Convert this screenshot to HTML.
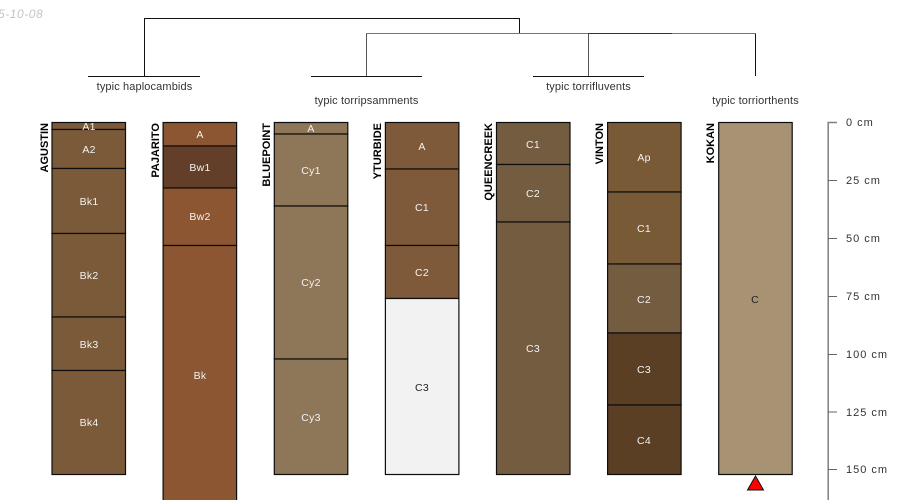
<!DOCTYPE html>
<html><head><meta charset="utf-8"><style>
html,body{margin:0;padding:0;background:#fff;width:900px;height:500px;overflow:hidden}
svg{display:block}
text{font-family:"Liberation Sans",sans-serif}
.w{fill:#f2f2f2;font-size:10.500px;letter-spacing:.25px;text-anchor:middle}
.k{fill:#222;font-size:10.500px;letter-spacing:.25px;text-anchor:middle}
.t{fill:#333;font-size:11px;letter-spacing:.12px;text-anchor:middle}
.n{fill:#000;font-size:11px;font-weight:bold;text-anchor:end}
.d{fill:#333;font-size:11px;letter-spacing:1px}
rect{stroke:#0d0d0d;stroke-width:1.200}
.c line,.c path{shape-rendering:crispEdges}
line,path.l{stroke:#111;stroke-width:1;fill:none}
</style></head><body>
<svg width="900" height="500" viewBox="0 0 900 500" xmlns="http://www.w3.org/2000/svg">
<text x="-2" y="18" style="font-size:12px;letter-spacing:.55px;font-style:italic;fill:#c4c4c4">5-10-08</text>

<!-- dendrogram -->
<g class="c">
<path class="l" d="M144.500 76V18.500H519.500V33"/>
<path d="M366.500 76V33.500" fill="none" stroke="#555" stroke-width="1"/>
<path d="M366 33.500H588" fill="none" stroke="#777" stroke-width="1"/>
<path d="M588.500 76V33.500" fill="none" stroke="#555" stroke-width="1"/>
<path d="M588 33.500H672" fill="none" stroke="#333" stroke-width="1"/>
<path d="M672 33.500H755.500" fill="none" stroke="#777" stroke-width="1"/>
<path class="l" d="M755.500 33.500V76"/>
<line x1="88" y1="76.500" x2="200" y2="76.500"/>
<line x1="311" y1="76.500" x2="422" y2="76.500"/>
<line x1="533" y1="76.500" x2="644" y2="76.500"/>
</g>
<text class="t" x="144.500" y="90">typic haplocambids</text>
<text class="t" x="366.500" y="104">typic torripsamments</text>
<text class="t" x="588.500" y="90">typic torrifluvents</text>
<text class="t" x="755.500" y="104">typic torriorthents</text>

<!-- AGUSTIN -->
<rect x="52" y="122.500" width="73.500" height="7" fill="#7b5a3a"/>
<rect x="52" y="129.500" width="73.500" height="39" fill="#7b5a3a"/>
<rect x="52" y="168.500" width="73.500" height="65" fill="#7b5a3a"/>
<rect x="52" y="233.500" width="73.500" height="83.500" fill="#7b5a3a"/>
<rect x="52" y="317" width="73.500" height="53.500" fill="#7b5a3a"/>
<rect x="52" y="370.500" width="73.500" height="104" fill="#7b5a3a"/>
<text class="w" x="89" y="130">A1</text>
<text class="w" x="89" y="153">A2</text>
<text class="w" x="89" y="205">Bk1</text>
<text class="w" x="89" y="279">Bk2</text>
<text class="w" x="89" y="348">Bk3</text>
<text class="w" x="89" y="426">Bk4</text>

<!-- PAJARITO -->
<rect x="163.100" y="122.500" width="73.500" height="23.500" fill="#8b5631"/>
<rect x="163.100" y="146" width="73.500" height="42" fill="#633f29"/>
<rect x="163.100" y="188" width="73.500" height="57.500" fill="#8b5631"/>
<rect x="163.100" y="245.500" width="73.500" height="270" fill="#8b5631"/>
<text class="w" x="200" y="138">A</text>
<text class="w" x="200" y="171">Bw1</text>
<text class="w" x="200" y="220">Bw2</text>
<text class="w" x="200" y="379">Bk</text>

<!-- BLUEPOINT -->
<rect x="274.300" y="122.500" width="73.500" height="11.500" fill="#8e7659"/>
<rect x="274.300" y="134" width="73.500" height="72" fill="#8e7659"/>
<rect x="274.300" y="206" width="73.500" height="153" fill="#8e7659"/>
<rect x="274.300" y="359" width="73.500" height="115.500" fill="#8e7659"/>
<text class="w" x="311" y="132">A</text>
<text class="w" x="311" y="174">Cy1</text>
<text class="w" x="311" y="286">Cy2</text>
<text class="w" x="311" y="421">Cy3</text>

<!-- YTURBIDE -->
<rect x="385.400" y="122.500" width="73.500" height="46.500" fill="#7f5a3a"/>
<rect x="385.400" y="169" width="73.500" height="76.500" fill="#7f5a3a"/>
<rect x="385.400" y="245.500" width="73.500" height="53" fill="#7f5a3a"/>
<rect x="385.400" y="298.500" width="73.500" height="176" fill="#f2f2f2"/>
<text class="w" x="422" y="150">A</text>
<text class="w" x="422" y="211">C1</text>
<text class="w" x="422" y="276">C2</text>
<text class="k" x="422" y="391">C3</text>

<!-- QUEENCREEK -->
<rect x="496.500" y="122.500" width="73.500" height="42" fill="#745c41"/>
<rect x="496.500" y="164.500" width="73.500" height="57.500" fill="#745c41"/>
<rect x="496.500" y="222" width="73.500" height="252.500" fill="#745c41"/>
<text class="w" x="533" y="148">C1</text>
<text class="w" x="533" y="197">C2</text>
<text class="w" x="533" y="352">C3</text>

<!-- VINTON -->
<rect x="607.600" y="122.500" width="73.500" height="69.500" fill="#795a36"/>
<rect x="607.600" y="192" width="73.500" height="72" fill="#795a36"/>
<rect x="607.600" y="264" width="73.500" height="69" fill="#745c41"/>
<rect x="607.600" y="333" width="73.500" height="72" fill="#5a3f25"/>
<rect x="607.600" y="405" width="73.500" height="69.500" fill="#5a3f25"/>
<text class="w" x="644" y="161">Ap</text>
<text class="w" x="644" y="232">C1</text>
<text class="w" x="644" y="303">C2</text>
<text class="w" x="644" y="373">C3</text>
<text class="w" x="644" y="444">C4</text>

<!-- KOKAN -->
<rect x="718.700" y="122.500" width="73.500" height="352" fill="#a89274"/>
<text class="k" x="755" y="303">C</text>

<!-- Names -->
<text class="n" transform="translate(48,123) rotate(-90)">AGUSTIN</text>
<text class="n" transform="translate(159,123) rotate(-90)">PAJARITO</text>
<text class="n" transform="translate(270,123) rotate(-90)">BLUEPOINT</text>
<text class="n" transform="translate(381,123) rotate(-90)">YTURBIDE</text>
<text class="n" transform="translate(492,123) rotate(-90)">QUEENCREEK</text>
<text class="n" transform="translate(603,123) rotate(-90)">VINTON</text>
<text class="n" transform="translate(714,123) rotate(-90)">KOKAN</text>

<!-- Axis -->
<path d="M828.200 500V122.500H837" fill="none" stroke="#808080" stroke-width="1.500"/>
<path d="M828 180.500H837M828 238.500H837M828 296.500H837M828 354.500H837M828 412H837M828 469.500H837" fill="none" stroke="#666" stroke-width="1"/>
<text class="d" x="846" y="126">0 cm</text>
<text class="d" x="846" y="184">25 cm</text>
<text class="d" x="846" y="242">50 cm</text>
<text class="d" x="846" y="300">75 cm</text>
<text class="d" x="846" y="358">100 cm</text>
<text class="d" x="846" y="416">125 cm</text>
<text class="d" x="846" y="473">150 cm</text>

<!-- Marker -->
<polygon points="755.500,476 747.500,490 763.500,490" fill="#ff0000" stroke="#111" stroke-width="1"/>
</svg>
</body></html>
